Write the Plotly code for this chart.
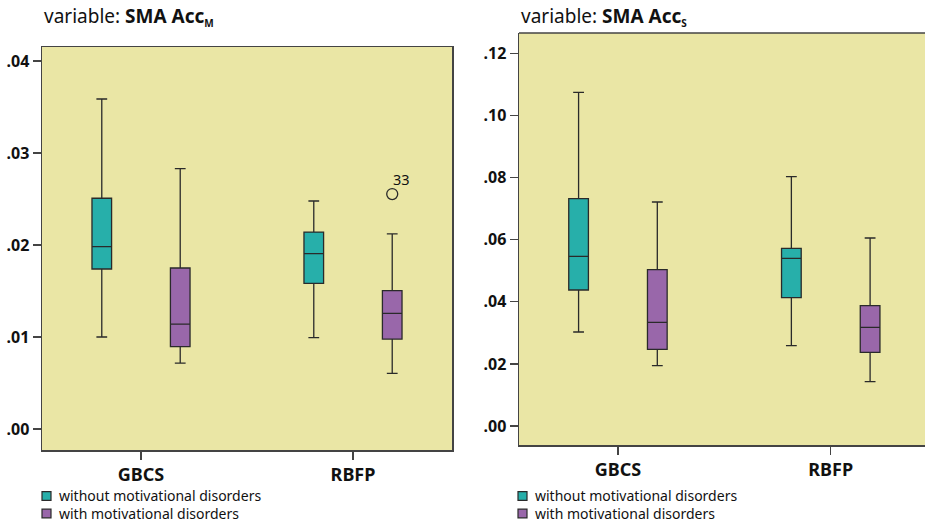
import plotly.graph_objects as go

categories = ["GBCS", "RBFP"]
group_names = ["without motivational disorders", "with motivational disorders"]
group_colors = ["#27AFAA", "#9967AA"]

# Panel 1: SMA Acc_M
m_without_low = [0.0100, 0.00993]
m_without_q1 = [0.01739, 0.01583]
m_without_med = [0.01982, 0.01906]
m_without_q3 = [0.02508, 0.02141]
m_without_high = [0.03587, 0.02478]

m_with_low = [0.00717, 0.00605]
m_with_q1 = [0.00895, 0.00978]
m_with_med = [0.01141, 0.01257]
m_with_q3 = [0.01750, 0.01504]
m_with_high = [0.02830, 0.02120]

m_outlier_category = "RBFP"
m_outlier_value = 0.02554
m_outlier_label = "33"

# Panel 2: SMA Acc_S
s_without_low = [0.03029, 0.02589]
s_without_q1 = [0.04383, 0.04135]
s_without_med = [0.05468, 0.05404]
s_without_q3 = [0.07326, 0.05726]
s_without_high = [0.10754, 0.08035]

s_with_low = [0.01944, 0.01428]
s_with_q1 = [0.02472, 0.02375]
s_with_med = [0.03341, 0.03180]
s_with_q3 = [0.05038, 0.03877]
s_with_high = [0.07219, 0.06059]

m_tick_vals = [0.00, 0.01, 0.02, 0.03, 0.04]
m_tick_text = [".00", ".01", ".02", ".03", ".04"]
s_tick_vals = [0.00, 0.02, 0.04, 0.06, 0.08, 0.10, 0.12]
s_tick_text = [".00", ".02", ".04", ".06", ".08", ".10", ".12"]

titles = [
    "variable: <b>SMA Acc</b><sub><span style='font-size:10px'><b>M</b></span></sub>",
    "variable: <b>SMA Acc</b><sub><span style='font-size:10px'><b>S</b></span></sub>",
]

W, H = 925, 522
FONT = "Noto Sans"
LINE = "#2a2a2a"
AXIS = "#444444"
BG = "#EAE6A5"
BOXGAP = 0.26
BOXGROUPGAP = 0.75

fig = go.Figure()


def add_box(name, color, low, q1, med, q3, high, xa, ya):
    fig.add_trace(go.Box(
        name=name, x=categories, q1=q1, median=med, q3=q3,
        lowerfence=low, upperfence=high, boxpoints=False,
        fillcolor=color, line=dict(color=LINE, width=1.3),
        whiskerwidth=0.55, xaxis=xa, yaxis=ya, showlegend=False,
        offsetgroup=name, hoverinfo="skip"))


add_box(group_names[0], group_colors[0], m_without_low, m_without_q1, m_without_med,
        m_without_q3, m_without_high, "x", "y")
add_box(group_names[1], group_colors[1], m_with_low, m_with_q1, m_with_med,
        m_with_q3, m_with_high, "x", "y")
add_box(group_names[0], group_colors[0], s_without_low, s_without_q1, s_without_med,
        s_without_q3, s_without_high, "x2", "y2")
add_box(group_names[1], group_colors[1], s_with_low, s_with_q1, s_with_med,
        s_with_q3, s_with_high, "x2", "y2")

# outlier: drawn on a hidden numeric axis overlaying the category axis,
# at the centre of the second box of its group (plotly group-offset rule)
group_offset = (1 - BOXGAP) / 4
outlier_x = categories.index(m_outlier_category) + group_offset
fig.add_trace(go.Scatter(
    x=[outlier_x], y=[m_outlier_value], mode="markers",
    marker=dict(symbol="circle-open", size=11, color=LINE, line=dict(width=1.3)),
    xaxis="x3", yaxis="y", showlegend=False, hoverinfo="skip", cliponaxis=False))
fig.add_annotation(text=m_outlier_label, xref="x3", yref="y", x=outlier_x,
                   y=m_outlier_value, xanchor="left", yanchor="middle",
                   xshift=-1, yshift=15, showarrow=False,
                   font=dict(size=14.5, family=FONT, color="#111"))


def px_x(p):
    return p / W


def px_y(p):
    return 1 - p / H


axis_common = dict(showline=True, linecolor=AXIS, linewidth=1.5, ticks="outside",
                   tickcolor=AXIS, tickwidth=1.2, showgrid=False, zeroline=False,
                   automargin=False, fixedrange=True)

XR1 = [-0.467, 1.467]
fig.update_layout(
    width=W, height=H,
    margin=dict(l=0, r=0, t=0, b=0),
    paper_bgcolor="white", plot_bgcolor=BG,
    boxmode="group", boxgap=BOXGAP, boxgroupgap=BOXGROUPGAP,
    showlegend=False,
    font=dict(family=FONT, color="#111"),
    xaxis=dict(domain=[px_x(42), px_x(452)], anchor="y", type="category",
               range=XR1, ticklen=8, mirror=True,
               tickfont=dict(size=18, family=FONT, weight="bold"), **axis_common),
    xaxis3=dict(domain=[px_x(42), px_x(452)], anchor="y", overlaying="x",
                range=XR1, visible=False, fixedrange=True),
    yaxis=dict(domain=[px_y(450), px_y(47)], anchor="x",
               range=[-0.00228, 0.04152], tickvals=m_tick_vals, ticktext=m_tick_text,
               ticklen=8, mirror=True,
               tickfont=dict(size=16, family=FONT, weight="bold"), **axis_common),
    xaxis2=dict(domain=[px_x(519), 1.0], anchor="y2", type="category",
                range=[-0.465, 1.443], ticklen=8,
                tickfont=dict(size=18, family=FONT, weight="bold"), **axis_common),
    yaxis2=dict(domain=[px_y(445), px_y(33)], anchor="x2",
                range=[-0.00612, 0.12665], tickvals=s_tick_vals, ticktext=s_tick_text,
                ticklen=8,
                tickfont=dict(size=16, family=FONT, weight="bold"), **axis_common),
)

# top border of right panel (its right edge is cut off by the figure)
fig.add_shape(type="line", xref="x2 domain", yref="y2 domain", x0=0, x1=1, y0=1, y1=1,
              line=dict(color=AXIS, width=1.5))

# titles
for title, xp in zip(titles, [42, 519]):
    fig.add_annotation(text=title, xref="paper", yref="paper", x=px_x(xp), y=px_y(16),
                       xanchor="left", yanchor="middle", showarrow=False,
                       font=dict(size=19, family=FONT, color="#111"))

# legends (one per panel)
ROW = 17.5
for lx in [42, 518]:
    for i, color in enumerate(group_colors):
        cy = 496 + i * ROW
        fig.add_shape(type="rect", xref="paper", yref="paper",
                      x0=px_x(lx), x1=px_x(lx + 9), y0=px_y(cy - 4.3), y1=px_y(cy + 4.3),
                      fillcolor=color, line=dict(color=LINE, width=1.2))
    fig.add_annotation(text="<br>".join(group_names), xref="paper", yref="paper",
                       x=px_x(lx + 15), y=px_y(496 + ROW / 2), align="left",
                       xanchor="left", yanchor="middle", showarrow=False,
                       font=dict(size=14, family=FONT, color="#111"))

fig.write_html("out.html", config={"displayModeBar": False, "staticPlot": True},
               post_script="document.body.style.margin='0';document.body.style.overflow='hidden';")
